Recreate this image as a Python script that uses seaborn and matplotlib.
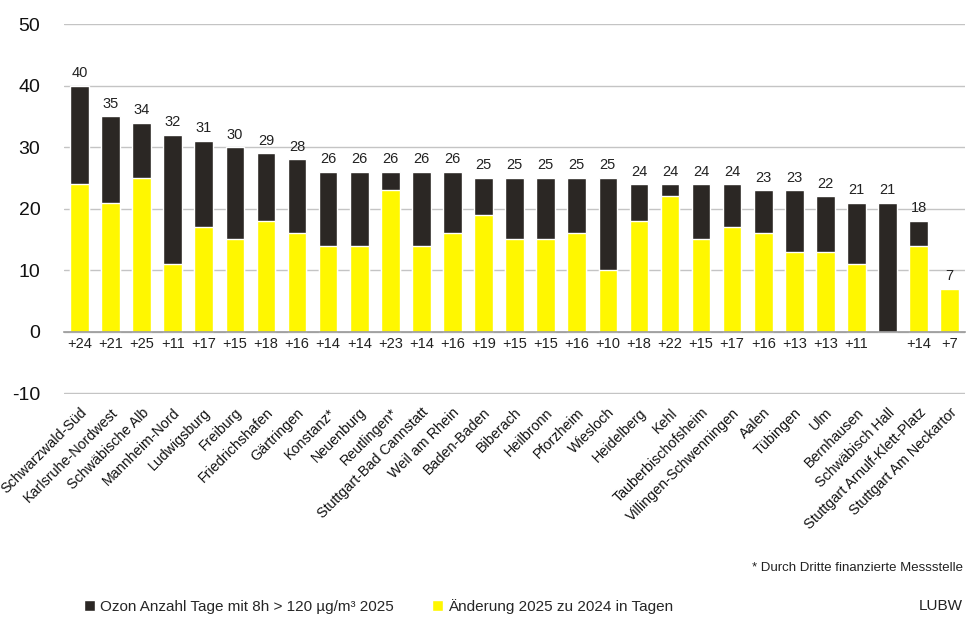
import numpy as np
import pandas as pd
import matplotlib
matplotlib.use("Agg")
import matplotlib.pyplot as plt
import seaborn as sns

# ---- data ----
stations = ["Schwarzwald-Süd", "Karlsruhe-Nordwest", "Schwäbische Alb", "Mannheim-Nord",
            "Ludwigsburg", "Freiburg", "Friedrichshafen", "Gärtringen", "Konstanz*",
            "Neuenburg", "Reutlingen*", "Stuttgart-Bad Cannstatt", "Weil am Rhein",
            "Baden-Baden", "Biberach", "Heilbronn", "Pforzheim", "Wiesloch", "Heidelberg",
            "Kehl", "Tauberbischofsheim", "Villingen-Schwenningen", "Aalen", "Tübingen",
            "Ulm", "Bernhausen", "Schwäbisch Hall", "Stuttgart Arnulf-Klett-Platz",
            "Stuttgart Am Neckartor"]
days_2025 = [40, 35, 34, 32, 31, 30, 29, 28, 26, 26, 26, 26, 26, 25, 25, 25, 25, 25,
             24, 24, 24, 24, 23, 23, 22, 21, 21, 18, 7]
change_days = [24, 21, 25, 11, 17, 15, 18, 16, 14, 14, 23, 14, 16, 19, 15, 15, 16, 10,
               18, 22, 15, 17, 16, 13, 13, 11, np.nan, 14, 7]
y_ticks = [-10, 0, 10, 20, 30, 40, 50]

label_total = "Ozon Anzahl Tage mit 8h > 120 µg/m³ 2025"
label_change = "Änderung 2025 zu 2024 in Tagen"
footnote = "* Durch Dritte finanzierte Messstelle"

DARK = "#2b2724"
YELLOW = "#fff700"

df = pd.DataFrame({"station": stations, "total": days_2025, "change": change_days})

sns.set_style("white")
plt.rcParams["font.family"] = ["Liberation Sans", "DejaVu Sans"]
plt.rcParams["axes.unicode_minus"] = False

fig = plt.figure(figsize=(9.75, 6.29), dpi=100)
ax = fig.add_axes([0.0656, 0.3736, 0.9244, 0.5882])

sns.barplot(data=df, x="station", y="total", color=DARK, width=0.6,
            saturation=1, label=label_total, ax=ax)
sns.barplot(data=df, x="station", y="change", color=YELLOW, width=0.6,
            saturation=1, label=label_change, ax=ax)

ax.set_ylim(-10.1, 50)
ax.set_yticks(y_ticks)
ax.set_xlim(-0.5, len(stations) - 0.5)
ax.set_xlabel("")
ax.set_ylabel("")
ax.yaxis.grid(True, color="#c4c4c4", lw=1)
ax.set_axisbelow(True)
for side in ["left", "right", "top"]:
    ax.spines[side].set_visible(False)
ax.spines["bottom"].set_position(("data", 0))
ax.spines["bottom"].set_color("#9a9a9a")
ax.spines["bottom"].set_linewidth(1.2)

# category boundary ticks on the zero line
ax.set_xticks(np.arange(len(stations) + 1) - 0.5, minor=True)
ax.tick_params(axis="x", which="minor", length=5, width=1, color="#9a9a9a", direction="out")
ax.tick_params(axis="x", which="major", length=0, pad=53, labelsize=10.3, labelcolor="#111111")
ax.tick_params(axis="y", length=0, pad=17, labelsize=14, labelcolor="#111111")
plt.setp(ax.get_xticklabels(), rotation=45, ha="right", rotation_mode="anchor")

# totals above bars
ax.bar_label(ax.containers[0], labels=[str(v) for v in days_2025],
             padding=4, fontsize=10.5, color="#222222")
# changes below the zero line
for i, c in enumerate(change_days):
    if not np.isnan(c):
        ax.text(i, -0.8, f"+{int(c)}", ha="center", va="top", fontsize=10.5, color="#222222")

# legend
handles, labels = ax.get_legend_handles_labels()
leg = ax.get_legend()
if leg is not None:
    leg.remove()
fig.legend(handles, labels, loc="center left", bbox_to_anchor=(0.072, 0.036), ncol=2,
           frameon=False, fontsize=11, handlelength=0.75, handleheight=0.75,
           handletextpad=0.3, columnspacing=2.5)

fig.text(0.988, 0.097, footnote, ha="right", va="center", fontsize=9.5, color="#222222")
fig.text(0.965, 0.036, "LUBW", ha="center", va="center", fontsize=11, color="#222222")

fig.savefig("out.png", dpi=100)
plt.close(fig)
